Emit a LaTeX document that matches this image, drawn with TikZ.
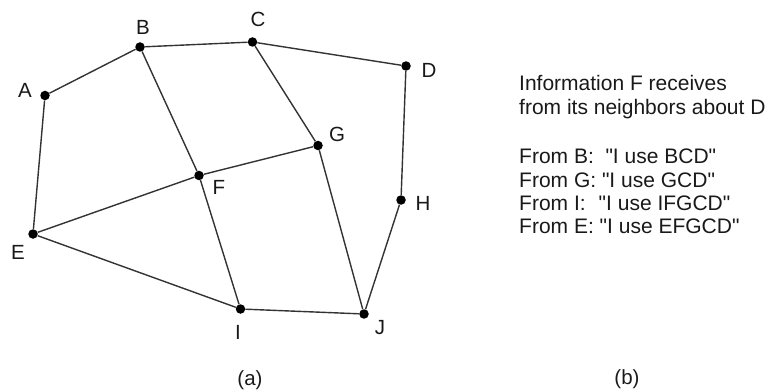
\documentclass[tikz,border=0pt]{standalone}
\usepackage{fontspec}
\setmainfont{Liberation Sans}[Ligatures=TeXOff]
\begin{document}
\begin{tikzpicture}[x=1pt,y=-1pt,
  vtx/.style={circle,fill=black,inner sep=0pt,minimum size=9.5pt},
  lbl/.style={inner sep=0pt,text=black!90,font=\fontsize{20.5}{24}\selectfont},
  txt/.style={anchor=base west,inner sep=0pt,text=black!90,font=\fontsize{21}{24}\selectfont},
  edge/.style={line width=1.4pt,draw=black!80}]
\useasboundingbox (0,0) rectangle (770,390);
\node[vtx] (A) at (45,95.5) {};
\node[vtx] (B) at (140,47) {};
\node[vtx] (C) at (252.5,42) {};
\node[vtx] (D) at (406,66) {};
\node[vtx] (G) at (318,145.5) {};
\node[vtx] (F) at (199,175.5) {};
\node[vtx] (H) at (401,200) {};
\node[vtx] (E) at (33,234) {};
\node[vtx] (I) at (240.5,309) {};
\node[vtx] (J) at (364,314) {};
\node[lbl] at (25,90) {A};
\node[lbl] at (143,27) {B};
\node[lbl] at (258,19) {C};
\node[lbl] at (429,70) {D};
\node[lbl] at (337,134) {G};
\node[lbl] at (219,187) {F};
\node[lbl] at (423,203) {H};
\node[lbl] at (18,252) {E};
\node[lbl] at (238,332) {I};
\node[lbl] at (380,328) {J};
\draw[edge] (A) -- (B) -- (C) -- (D) -- (H) -- (J) -- (I) -- (E) -- (A);
\draw[edge] (B) -- (F) -- (I);
\draw[edge] (C) -- (G) -- (J);
\draw[edge] (E) -- (F) -- (G);
\node[txt] (t1) at (519,91) {Information F receives};
\node[txt] (t2) at (519,115) {from its neighbors about D};
\node[txt] (t3) at (519,164) {From B:\ \ "I use BCD"};
\node[txt] (t4) at (519,187) {From G: "I use GCD"};
\node[txt] (t5) at (519,210) {From I:\hspace{13pt}"I use IFGCD"};
\node[txt] (t6) at (519,233) {From E: "I use EFGCD"};
\node[lbl] (ca) at (250,380) {(a)};
\node[lbl] (cb) at (627,379) {(b)};
\end{tikzpicture}
\end{document}
